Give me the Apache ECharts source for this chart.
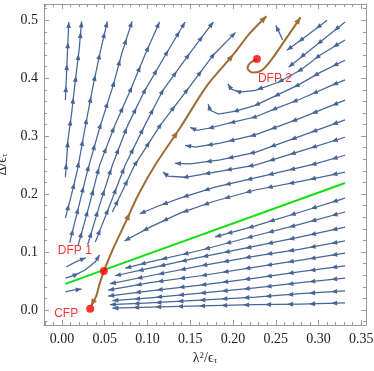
<!DOCTYPE html>
<html>
<head>
<meta charset="utf-8">
<script src="https://cdn.jsdelivr.net/npm/echarts@6/dist/echarts.min.js"></script>
<style>
html,body{margin:0;padding:0;background:#fff;}
#chart{width:374px;height:371px;}
</style>
</head>
<body>
<div id="chart"></div>
<script>
// ---------- data ----------
const xRange = [-0.021, 0.3555];
const yRange = [-0.026, 0.528];
const xTickLabels = ['0.00','0.05','0.10','0.15','0.20','0.25','0.30','0.35'];
const yTickLabels = ['0.0','0.1','0.2','0.3','0.4','0.5'];

// blue streamlines, points listed in flow direction
const streamlines = [
  // upward flow, left of the separatrix
  [[0.004,0.362],[0.006,0.431],[0.008,0.497]],
  [[0.004,0.229],[0.007,0.293],[0.011,0.336],[0.015,0.388],[0.020,0.448],[0.023,0.498]],
  [[0.004,0.159],[0.011,0.198],[0.018,0.241],[0.027,0.314],[0.036,0.384],[0.044,0.440],[0.053,0.498]],
  [[0.009,0.116],[0.020,0.181],[0.030,0.241],[0.044,0.314],[0.060,0.388],[0.070,0.443],[0.082,0.498]],
  [[0.019,0.112],[0.032,0.181],[0.044,0.250],[0.062,0.319],[0.080,0.379],[0.097,0.440],[0.114,0.497]],
  [[0.030,0.112],[0.044,0.181],[0.059,0.250],[0.077,0.319],[0.097,0.379],[0.121,0.440],[0.144,0.497]],
  [[0.039,0.117],[0.056,0.181],[0.074,0.250],[0.097,0.319],[0.118,0.379],[0.148,0.440],[0.177,0.497]],
  [[0.059,0.169],[0.085,0.250],[0.115,0.319],[0.146,0.379],[0.177,0.440],[0.203,0.479]],
  // left of DFP 1
  [[0.004,0.055],[0.015,0.060],[0.027,0.069],[0.039,0.083],[0.044,0.095]],
  [[0.004,0.031],[0.013,0.034],[0.023,0.036]],
  [[0.005,0.074],[0.016,0.083],[0.028,0.090]],
  // below the green line, flowing left
  [[0.331,0.193],[0.279,0.169],[0.226,0.145],[0.179,0.126]],
  [[0.331,0.169],[0.279,0.148],[0.226,0.128],[0.162,0.103],[0.103,0.083],[0.074,0.072]],
  [[0.331,0.143],[0.279,0.126],[0.226,0.110],[0.162,0.091],[0.103,0.072],[0.062,0.059]],
  [[0.331,0.119],[0.279,0.105],[0.226,0.093],[0.162,0.076],[0.103,0.059],[0.056,0.045]],
  [[0.331,0.098],[0.279,0.086],[0.226,0.074],[0.162,0.059],[0.103,0.047],[0.054,0.034]],
  [[0.331,0.076],[0.279,0.066],[0.226,0.055],[0.162,0.043],[0.103,0.033],[0.054,0.024]],
  [[0.331,0.055],[0.279,0.047],[0.226,0.038],[0.162,0.029],[0.103,0.021],[0.059,0.016]],
  [[0.331,0.033],[0.279,0.028],[0.226,0.022],[0.162,0.017],[0.103,0.012],[0.056,0.009]],
  [[0.331,0.012],[0.279,0.010],[0.226,0.009],[0.162,0.007],[0.103,0.005],[0.059,0.003]],
  // upper right, flowing down-left and curling round DFP 2
  [[0.310,0.500],[0.287,0.474],[0.263,0.448]],
  [[0.331,0.497],[0.299,0.459],[0.265,0.419]],
  [[0.331,0.466],[0.302,0.440],[0.279,0.414],[0.253,0.393],[0.226,0.379],[0.208,0.376],[0.198,0.381],[0.194,0.390]],
  [[0.331,0.431],[0.302,0.410],[0.276,0.388],[0.249,0.369],[0.226,0.353],[0.203,0.343],[0.183,0.338],[0.173,0.345],[0.171,0.355]],
  [[0.331,0.397],[0.316,0.388],[0.279,0.364],[0.249,0.347],[0.226,0.333],[0.200,0.324],[0.173,0.314],[0.158,0.310],[0.150,0.315]],
  [[0.331,0.362],[0.279,0.331],[0.226,0.302],[0.185,0.288],[0.156,0.281],[0.144,0.284]],
  [[0.331,0.328],[0.279,0.300],[0.226,0.272],[0.185,0.259],[0.150,0.252],[0.132,0.253]],
  [[0.331,0.298],[0.279,0.274],[0.226,0.250],[0.179,0.238],[0.144,0.229],[0.124,0.231],[0.118,0.238]],
  [[0.331,0.267],[0.296,0.252],[0.261,0.240],[0.226,0.228],[0.179,0.212],[0.138,0.193],[0.112,0.179],[0.091,0.166]],
  [[0.331,0.238],[0.279,0.222],[0.226,0.207],[0.179,0.188],[0.138,0.167],[0.103,0.143],[0.073,0.119]],
  [[0.258,0.466],[0.254,0.479],[0.250,0.491]]
];

// brown separatrices
const separatrices = [
  [[0.049,0.067],[0.044,0.045],[0.040,0.024],[0.034,0.007]],
  [[0.049,0.067],[0.059,0.103],[0.073,0.147],[0.089,0.198],[0.109,0.250],[0.138,0.314],[0.170,0.388],[0.200,0.440],[0.220,0.478],[0.239,0.507]],
  [[0.228,0.433],[0.220,0.426],[0.217,0.417],[0.222,0.410],[0.234,0.414],[0.246,0.434],[0.261,0.466],[0.279,0.505]]
];

// green line
const greenLine = [[0.004,0.045],[0.331,0.219]];

// fixed points
const fpNames = ['CFP','DFP 1','DFP 2'];
const fpX = [0.033, 0.049, 0.228];
const fpY = [0.002, 0.067, 0.433];

// ---------- drawing ----------
const FRAME = '#9a9a9a';
const BLUE = '#476597';
const BROWN = '#9e6c36';

function makeRender(lines, color, width, spacing, offset, headL, headW, smooth) {
  return function (params, api) {
    const pts = lines[api.value(2)].map(p => api.coord(p));
    const children = [{
      type: 'polyline',
      shape: { points: pts, smooth: smooth },
      style: { stroke: color, lineWidth: width, fill: null }
    }];
    const seg = [];
    let total = 0;
    for (let i = 1; i < pts.length; i++) {
      const L = Math.hypot(pts[i][0] - pts[i-1][0], pts[i][1] - pts[i-1][1]);
      seg.push(L); total += L;
    }
    const positions = [];
    for (let s = offset; s < total - spacing * 0.55; s += spacing) positions.push(s);
    positions.push(total);
    positions.forEach((s, k) => {
      const isEnd = k === positions.length - 1;
      let i = 0, acc = 0;
      while (i < seg.length - 1 && acc + seg[i] < s) { acc += seg[i]; i++; }
      const t = seg[i] ? Math.min(1, (s - acc) / seg[i]) : 0;
      const a = pts[i], b = pts[i + 1];
      const ang = Math.atan2(b[1] - a[1], b[0] - a[0]);
      const c = Math.cos(ang), sn = Math.sin(ang);
      let x = a[0] + (b[0] - a[0]) * t, y = a[1] + (b[1] - a[1]) * t;
      if (isEnd) { x -= c * headL * 0.5; y -= sn * headL * 0.5; }
      const tip = [x + c * headL * 0.5, y + sn * headL * 0.5];
      const base = [x - c * headL * 0.5, y - sn * headL * 0.5];
      children.push({
        type: 'polygon',
        shape: { points: [tip, [base[0] - sn * headW, base[1] + c * headW], [base[0] + sn * headW, base[1] - c * headW]] },
        style: { fill: color }
      });
    });
    return { type: 'group', children: children };
  };
}

const labelPlacement = {
  'CFP':   { position: 'left', distance: 8, offset: [0, 5] },
  'DFP 1': { position: 'left', distance: 8, offset: [0, -20] },
  'DFP 2': { position: 'bottom', distance: 10, offset: [18, 0] }
};

const axisCommon = {
  type: 'value',
  axisLine: { show: true, onZero: false, lineStyle: { color: FRAME, width: 1 } },
  axisTick: { show: true, inside: true, length: 5, lineStyle: { color: FRAME } },
  minorTick: { show: true, splitNumber: 5, length: 3, lineStyle: { color: FRAME } },
  splitLine: { show: false },
  minorSplitLine: { show: false }
};
const labelFont = { fontFamily: 'Liberation Serif', fontSize: 14, color: '#222' };
const X_LABEL_MARGIN = 7;

// the last x tick label sits at the canvas edge; it is drawn as a graphic text
const xAxisLabelValues = xTickLabels.slice(0, -1).map(Number);
const xEdgeLabel = xTickLabels[xTickLabels.length - 1];

const chart = echarts.init(document.getElementById('chart'), null, { renderer: 'canvas' });
chart.setOption({
  animation: false,
  grid: { left: 44, right: 8, top: 4, bottom: 46, containLabel: false, outerBoundsMode: 'none' },
  xAxis: [
    Object.assign({}, axisCommon, {
      position: 'bottom', min: xRange[0], max: xRange[1], splitNumber: 7,
      axisLabel: Object.assign({
        margin: X_LABEL_MARGIN, hideOverlap: false,
        customValues: xAxisLabelValues,
        formatter: v => v.toFixed(2)
      }, labelFont),
      name: 'λ{sup|2}/ϵ{sub|τ}', nameLocation: 'middle', nameGap: 26,
      nameTextStyle: {
        fontFamily: 'Liberation Serif', fontSize: 14, color: '#222',
        rich: {
          sup: { fontFamily: 'Liberation Serif', fontSize: 9, verticalAlign: 'top', color: '#222' },
          sub: { fontFamily: 'Liberation Serif', fontSize: 9, verticalAlign: 'bottom', color: '#222' }
        }
      }
    }),
    Object.assign({}, axisCommon, {
      position: 'top', min: xRange[0], max: xRange[1], splitNumber: 7,
      axisLabel: { show: false }
    })
  ],
  yAxis: [
    Object.assign({}, axisCommon, {
      position: 'left', min: yRange[0], max: yRange[1], splitNumber: 6,
      axisLabel: Object.assign({
        margin: 6, hideOverlap: false,
        customValues: yTickLabels.map(Number),
        formatter: v => v.toFixed(1)
      }, labelFont),
      name: 'Δ/ϵ{sub|τ}', nameLocation: 'middle', nameGap: 26,
      nameTextStyle: {
        fontFamily: 'Liberation Serif', fontSize: 14, color: '#222',
        rich: {
          sub: { fontFamily: 'Liberation Serif', fontSize: 9, verticalAlign: 'bottom', color: '#222' }
        }
      }
    }),
    Object.assign({}, axisCommon, {
      position: 'right', min: yRange[0], max: yRange[1], splitNumber: 6,
      axisLabel: { show: false }
    })
  ],
  series: [
    {
      type: 'custom', coordinateSystem: 'cartesian2d', silent: true, clip: true, z: 2,
      encode: { x: 0, y: 1 },
      data: streamlines.map((l, i) => [l[0][0], l[0][1], i]),
      renderItem: makeRender(streamlines, BLUE, 1.25, 22, 11, 6, 2.4, 0)
    },
    {
      type: 'line', silent: true, z: 3, symbol: 'none',
      data: greenLine,
      lineStyle: { color: '#10e010', width: 2 }
    },
    {
      type: 'custom', coordinateSystem: 'cartesian2d', silent: true, clip: true, z: 4,
      encode: { x: 0, y: 1 },
      data: separatrices.map((l, i) => [l[0][0], l[0][1], i]),
      renderItem: makeRender(separatrices, BROWN, 2, 95, 60, 7, 3, 0.3)
    },
    {
      type: 'scatter', silent: true, z: 5, symbol: 'circle', symbolSize: 8,
      itemStyle: { color: '#ff0000' },
      data: fpNames.map((n, i) => ({
        name: n, value: [fpX[i], fpY[i]],
        label: Object.assign({
          show: true, formatter: '{b}', color: '#ff0000',
          fontFamily: 'Liberation Sans', fontSize: 12
        }, labelPlacement[n])
      }))
    }
  ]
});

// place the edge tick label through the axis scale
const edgePx = chart.convertToPixel({ xAxisIndex: 0, yAxisIndex: 0 }, [Number(xEdgeLabel), yRange[0]]);
chart.setOption({
  graphic: [{
    type: 'text', silent: true, z: 10,
    x: edgePx[0], y: edgePx[1] + X_LABEL_MARGIN,
    style: Object.assign({ text: xEdgeLabel, align: 'center', verticalAlign: 'top', fill: '#222',
      font: '14px "Liberation Serif"' })
  }]
});
</script>
</body>
</html>
